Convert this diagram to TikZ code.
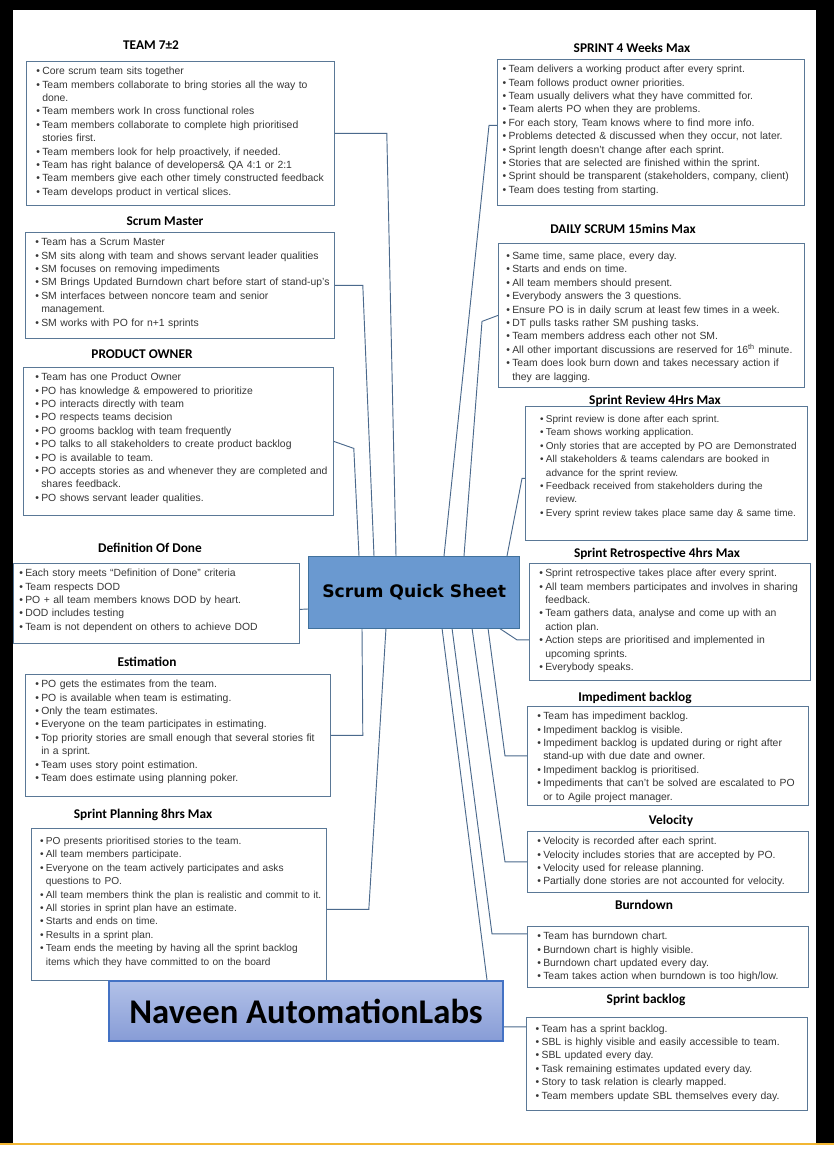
\documentclass[tikz,border=0pt]{standalone}
\usepackage{fontspec}
\setmainfont{Liberation Sans}
\newfontfamily\carlitofont{Carlito}
\newfontfamily\dejafont{DejaVu Sans}
\definecolor{boxline}{RGB}{90,120,150}
\definecolor{conn}{RGB}{75,105,140}
\definecolor{bodytext}{RGB}{55,55,55}
\definecolor{hubfill}{RGB}{106,153,208}
\definecolor{hubline}{RGB}{65,113,156}
\definecolor{logotop}{RGB}{178,193,232}
\definecolor{logobot}{RGB}{135,156,214}
\definecolor{logoline}{RGB}{68,114,196}
\definecolor{rulecol}{RGB}{242,182,50}
\newcommand{\itm}[1]{\mbox{\makebox[4.4pt][l]{•}#1}}
\newcommand{\cnt}[1]{\mbox{\hspace*{4.4pt}#1}}
\begin{document}
\begin{tikzpicture}[x=0.75pt,y=-0.75pt,
  box/.style={draw=boxline,line width=0.6pt,anchor=north west,inner xsep=7.5pt,inner ysep=3pt,
    text height=7pt,align=left,text=bodytext,font=\fontsize{7.8}{10.05}\selectfont},
  lbl/.style={font=\carlitofont\bfseries\fontsize{10}{12}\selectfont,inner sep=0pt,text height=6.4pt,text depth=0pt},
  link/.style={draw=conn,line width=0.7pt}]
  \useasboundingbox (0,0) rectangle (834,1152);
  \fill[white] (0,0) rectangle (834,1152);
  \fill[black] (0,0) rectangle (834,10);
  \fill[black] (0,0) rectangle (13,1143);
  \fill[black] (816,0) rectangle (834,1143);
  \draw[rulecol,line width=1.5pt] (0,1144) -- (834,1144);

  \node[lbl] (teamlbl) at (151,45) {TEAM 7±2};
  \node[box,text width=216pt,text depth=95pt] (team) at (26,61) {%
    \itm{Core scrum team sits together}\\
    \itm{Team members collaborate to bring stories all the way to}\\
    \cnt{done.}\\
    \itm{Team members work In cross functional roles}\\
    \itm{Team members collaborate to complete high prioritised}\\
    \cnt{stories first.}\\
    \itm{Team members look for help proactively, if needed.}\\
    \itm{Team has right balance of developers\& QA 4:1 or 2:1}\\
    \itm{Team members give each other timely constructed feedback}\\
    \itm{Team develops product in vertical slices.}};

  \node[lbl] (smlbl) at (165,221) {Scrum Master};
  \node[box,text width=216.75pt,text depth=66.5pt] (sm) at (25,232) {%
    \itm{Team has a Scrum Master}\\
    \itm{SM sits along with team and shows servant leader qualities}\\
    \itm{SM focuses on removing impediments}\\
    \itm{SM Brings Updated Burndown chart before start of stand-up’s}\\
    \itm{SM interfaces between noncore team and senior}\\
    \cnt{management.}\\
    \itm{SM works with PO for n+1 sprints}};

  \node[lbl] (polbl) at (142,354) {PRODUCT OWNER};
  \node[box,inner xsep=9pt,text width=214.5pt,text depth=98pt] (po) at (23,367) {%
    \itm{Team has one Product Owner}\\
    \itm{PO has knowledge \& empowered to prioritize}\\
    \itm{PO interacts directly with team}\\
    \itm{PO respects teams decision}\\
    \itm{PO grooms backlog with team frequently}\\
    \itm{PO talks to all stakeholders to create product backlog}\\
    \itm{PO is available to team.}\\
    \itm{PO accepts stories as and whenever they are completed and}\\
    \cnt{shares feedback.}\\
    \itm{PO shows servant leader qualities.}};

  \node[lbl] (dodlbl) at (150,548) {Definition Of Done};
  \node[box,inner xsep=4.5pt,text width=205.5pt,text depth=47pt] (dod) at (13,563) {%
    \itm{Each story meets “Definition of Done” criteria}\\
    \itm{Team respects DOD}\\
    \itm{PO + all team members knows DOD by heart.}\\
    \itm{DOD includes testing}\\
    \itm{Team is not dependent on others to achieve DOD}};

  \node[lbl] (estlbl) at (147,662) {Estimation};
  \node[box,text width=213.75pt,text depth=78.5pt] (est) at (25,674) {%
    \itm{PO gets the estimates from the team.}\\
    \itm{PO is available when team is estimating.}\\
    \itm{Only the team estimates.}\\
    \itm{Everyone on the team participates in estimating.}\\
    \itm{Top priority stories are small enough that several stories fit}\\
    \cnt{in a sprint.}\\
    \itm{Team uses story point estimation.}\\
    \itm{Team does estimate using planning poker.}};

  \node[lbl] (planlbl) at (143,814) {Sprint Planning 8hrs Max};
  \node[box,inner xsep=6.5pt,inner ysep=5pt,text width=208.25pt,text depth=97pt,
    font=\fontsize{7.6}{10.05}\selectfont] (plan) at (31,828) {%
    \itm{PO presents prioritised stories to the team.}\\
    \itm{All team members participate.}\\
    \itm{Everyone on the team actively participates and asks}\\
    \cnt{questions to PO.}\\
    \itm{All team members think the plan is realistic and commit to it.}\\
    \itm{All stories in sprint plan have an estimate.}\\
    \itm{Starts and ends on time.}\\
    \itm{Results in a sprint plan.}\\
    \itm{Team ends the meeting by having all the sprint backlog}\\
    \cnt{items which they have committed to on the board}};

  \node[lbl] (sprintlbl) at (632,48) {SPRINT 4 Weeks Max};
  \node[box,inner xsep=4pt,text width=222.25pt,text depth=96.5pt] (sprint) at (497,59) {%
    \itm{Team delivers a working product after every sprint.}\\
    \itm{Team follows product owner priorities.}\\
    \itm{Team usually delivers what they have committed for.}\\
    \itm{Team alerts PO when they are problems.}\\
    \itm{For each story, Team knows where to find more info.}\\
    \itm{Problems detected \& discussed when they occur, not later.}\\
    \itm{Sprint length doesn’t change after each sprint.}\\
    \itm{Stories that are selected are finished within the sprint.}\\
    \itm{Sprint should be transparent (stakeholders, company, client)}\\
    \itm{Team does testing from starting.}};

  \node[lbl] (dailylbl) at (623,229) {DAILY SCRUM 15mins Max};
  \node[box,inner xsep=6pt,inner ysep=5pt,text width=217.5pt,text depth=91pt] (daily) at (498,243) {%
    \itm{Same time, same place, every day.}\\
    \itm{Starts and ends on time.}\\
    \itm{All team members should present.}\\
    \itm{Everybody answers the 3 questions.}\\
    \itm{Ensure PO is in daily scrum at least few times in a week.}\\
    \itm{DT pulls tasks rather SM pushing tasks.}\\
    \itm{Team members address each other not SM.}\\
    \itm{All other important discussions are reserved for 16\textsuperscript{th} minute.}\\
    \itm{Team does look burn down and takes necessary action if}\\
    \cnt{they are lagging.}};

  \node[lbl] (reviewlbl) at (655,400) {Sprint Review 4Hrs Max};
  \node[box,inner xsep=11pt,inner ysep=5pt,text width=189.5pt,text depth=83.5pt,
    font=\fontsize{7.5}{10.05}\selectfont] (review) at (525,406) {%
    \itm{Sprint review is done after each sprint.}\\
    \itm{Team shows working application.}\\
    \itm{Only stories that are accepted by PO are Demonstrated}\\
    \itm{All stakeholders \& teams calendars are booked in}\\
    \cnt{advance for the sprint review.}\\
    \itm{Feedback received from stakeholders during the}\\
    \cnt{review.}\\
    \itm{Every sprint review takes place same day \& same time.}};

  \node[lbl] (retrolbl) at (657,553) {Sprint Retrospective 4hrs Max};
  \node[box,text width=195.75pt,text depth=74.75pt] (retro) at (529,563) {%
    \itm{Sprint retrospective takes place after every sprint.}\\
    \itm{All team members participates and involves in sharing}\\
    \cnt{feedback.}\\
    \itm{Team gathers data, analyse and come up with an}\\
    \cnt{action plan.}\\
    \itm{Action steps are prioritised and implemented in}\\
    \cnt{upcoming sprints.}\\
    \itm{Everybody speaks.}};

  \node[lbl] (implbl) at (635,697) {Impediment backlog};
  \node[box,text width=195.75pt,text depth=61.25pt] (imp) at (527,706) {%
    \itm{Team has impediment backlog.}\\
    \itm{Impediment backlog is visible.}\\
    \itm{Impediment backlog is updated during or right after}\\
    \cnt{stand-up with due date and owner.}\\
    \itm{Impediment backlog is prioritised.}\\
    \itm{Impediments that can’t be solved are escalated to PO}\\
    \cnt{or to Agile project manager.}};

  \node[lbl] (vellbl) at (671,820) {Velocity};
  \node[box,text width=195.75pt,text depth=32.75pt] (vel) at (527,831) {%
    \itm{Velocity is recorded after each sprint.}\\
    \itm{Velocity includes stories that are accepted by PO.}\\
    \itm{Velocity used for release planning.}\\
    \itm{Partially done stories are not accounted for velocity.}};

  \node[lbl] (burnlbl) at (644,905) {Burndown};
  \node[box,text width=195.75pt,text depth=32.75pt] (burn) at (527,926) {%
    \itm{Team has burndown chart.}\\
    \itm{Burndown chart is highly visible.}\\
    \itm{Burndown chart updated every day.}\\
    \itm{Team takes action when burndown is too high/low.}};

  \node[lbl] (sbllbl) at (646,999) {Sprint backlog};
  \node[box,inner xsep=7pt,inner ysep=4pt,text width=196.75pt,text depth=54.75pt] (sbl) at (526,1017) {%
    \itm{Team has a sprint backlog.}\\
    \itm{SBL is highly visible and easily accessible to team.}\\
    \itm{SBL updated every day.}\\
    \itm{Task remaining estimates updated every day.}\\
    \itm{Story to task relation is clearly mapped.}\\
    \itm{Team members update SBL themselves every day.}};

  \coordinate (hubnw) at (308,556);
  \coordinate (hubsw) at (308,628);
  \draw[link] (team.east) -- ++(52,0) -- ([shift={(88,0)}]hubnw);
  \draw[link] (sm.east) -- ++(28,0) -- ([shift={(66,0)}]hubnw);
  \draw[link] (po.east) -- ++(20,7) -- ([shift={(51,0)}]hubnw);
  \draw[link] ([shift={(0,-7)}]sprint.west) -- ++(-8,0) -- ([shift={(136,0)}]hubnw);
  \draw[link] (daily.west) -- ++(-16,6) -- ([shift={(156,0)}]hubnw);
  \draw[link] ([shift={(0,5)}]review.west) -- ++(-3,0) -- ([shift={(199,0)}]hubnw);
  \draw[link] ([shift={(0,6)}]dod.east) -- ([shift={(0,53)}]hubnw);
  \draw[link] (est.east) -- ++(32,0) -- ([shift={(54,0)}]hubsw);
  \draw[link] ([shift={(0,5)}]plan.east) -- ++(42,0) -- ([shift={(78,0)}]hubsw);
  \draw[link] ([shift={(0,18)}]retro.west) -- ++(-12,0) -- ([shift={(191,0)}]hubsw);
  \draw[link] (imp.west) -- ++(-22,0) -- ([shift={(180,0)}]hubsw);
  \draw[link] (vel.west) -- ++(-22,0) -- ([shift={(164,0)}]hubsw);
  \draw[link] ([shift={(0,-23)}]burn.west) -- ++(-35,0) -- ([shift={(144,0)}]hubsw);
  \draw[link] ([shift={(0,-37)}]sbl.west) -- ++(-33,0) -- ([shift={(134,0)}]hubsw);

  \node[draw=hubline,line width=1pt,fill=hubfill,anchor=north west,minimum width=158.25pt,minimum height=54pt,
    inner sep=0pt,font=\dejafont\bfseries\fontsize{12.9}{15}\selectfont] (hub) at (hubnw) {Scrum Quick Sheet};
  \node[draw=logoline,line width=1.5pt,top color=logotop,bottom color=logobot,anchor=north west,minimum width=295.5pt,
    minimum height=45pt,inner sep=0pt,font=\carlitofont\bfseries\fontsize{26}{30}\selectfont] (logo) at (108,980) {Naveen AutomationLabs};
\end{tikzpicture}
\end{document}
